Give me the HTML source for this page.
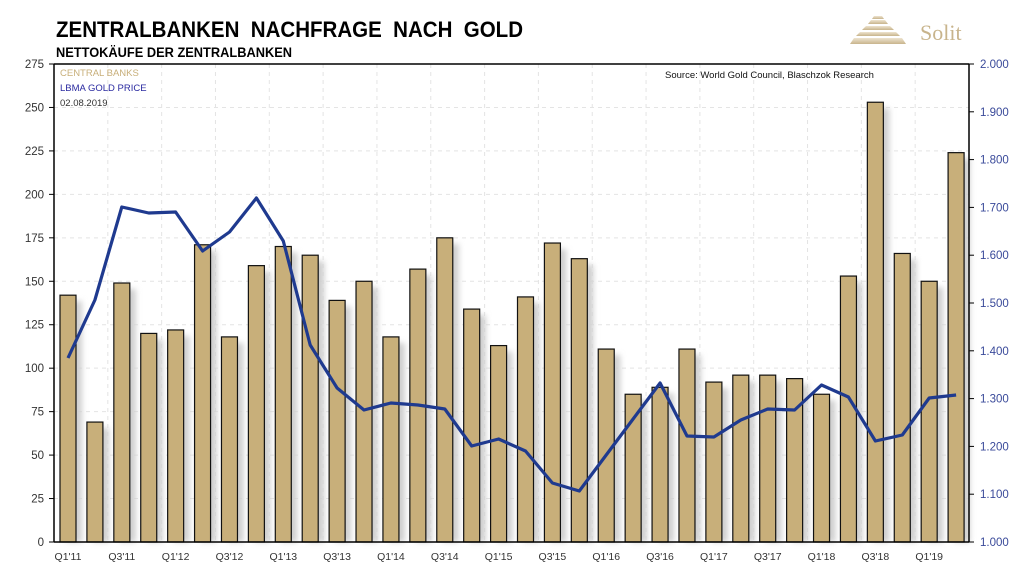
<!DOCTYPE html>
<html><head><meta charset="utf-8"><style>
body{margin:0;background:#fff;}
svg{display:block;font-family:"Liberation Sans",sans-serif;}
</style></head><body>
<svg width="1024" height="575" xmlns="http://www.w3.org/2000/svg">
<defs><filter id="b" x="-50%" y="-10%" width="200%" height="120%"><feGaussianBlur stdDeviation="3"/></filter>
<linearGradient id="g" x1="0" x2="0" y1="0" y2="1"><stop offset="0" stop-color="#eee4d0"/><stop offset="1" stop-color="#c8b48c"/></linearGradient></defs>
<text x="56" y="37" font-size="22" font-weight="bold" textLength="467" lengthAdjust="spacingAndGlyphs" xml:space="preserve">ZENTRALBANKEN  NACHFRAGE  NACH  GOLD</text>
<text x="56" y="57" font-size="13.5" font-weight="bold" textLength="236" lengthAdjust="spacingAndGlyphs">NETTOKÄUFE DER ZENTRALBANKEN</text>
<g fill="url(#g)"><polygon points="871,20 885,20 888,24 868,24"/><polygon points="866,26 890,26 894,30 862,30"/><polygon points="860,32 896,32 900,36 856,36"/><polygon points="854,38 902,38 906,44 850,44"/><polygon points="874,16 882,16 884,19 872,19"/></g>
<text x="920" y="40" font-family="Liberation Serif,serif" font-size="22" fill="#c8b48c">Solit</text>
<g id="grid" stroke="#e4e4e4" stroke-dasharray="4,4"></g>
<g id="shadow" fill="#cfcfcf" filter="url(#b)"></g>
<g id="bars" fill="#c8af7a" stroke="#111" stroke-width="1.2"></g>
<polyline id="line" fill="none" stroke="#1f3a8f" stroke-width="3.2" stroke-linejoin="round"/>
<g stroke="#000" stroke-width="1.5"><line x1="54" y1="64" x2="969" y2="64"/><line x1="54" y1="64" x2="54" y2="542"/><line x1="969" y1="64" x2="969" y2="542"/><line x1="54" y1="542" x2="969" y2="542"/></g>
<g id="ticks" stroke="#000" stroke-width="1"></g>
<g id="ly" font-size="11.5" fill="#333" text-anchor="end"></g>
<g id="ry" font-size="11.5" fill="#3a4a9a"></g>
<g id="xl" font-size="10.5" fill="#333" text-anchor="middle"></g>
<text x="60" y="76" font-size="9.5" fill="#c8af7a">CENTRAL BANKS</text>
<text x="60" y="91" font-size="9.5" fill="#2a2aa0">LBMA GOLD PRICE</text>
<text x="60" y="106" font-size="9.5" fill="#333">02.08.2019</text>
<text x="665" y="78" font-size="9.5" fill="#111">Source: World Gold Council, Blaschzok Research</text>
</svg>
<script>
const NS="http://www.w3.org/2000/svg";
function el(p,t,a,tx){const e=document.createElementNS(NS,t);for(const k in a)e.setAttribute(k,a[k]);if(tx)e.textContent=tx;document.getElementById(p).appendChild(e);}
const v=[142,69,149,120,122,171,118,159,170,165,139,150,118,157,175,134,113,141,172,163,111,85,89,111,92,96,96,94,85,153,253,166,150,224];
const ly=[358,300,207,213,212,251,232,198,241,345,388,410,403,405,409,446,439,451,483,491,455,419,383,436,437,420,409,410,385,397,441,435,398,395];
const p=915/34;const yb=u=>542-u*478/275;
let pts=[];
for(let i=0;i<34;i++){const x=54+p*i+6;const y=yb(v[i]);
el("shadow","rect",{x:x+6,y:y+6,width:16,height:536-y});
el("bars","rect",{x:x,y:y,width:16,height:542-y});
pts.push((x+8).toFixed(1)+","+ly[i]);
if(i%2==0){const q=(i%4==0?"Q1":"Q3")+"'"+(11+Math.floor(i/4));el("xl","text",{x:x+8,y:560},q);}
}
for(let i=1;i<17;i++){el("grid","line",{x1:54+p*2*i,y1:64,x2:54+p*2*i,y2:542});}
document.getElementById("line").setAttribute("points",pts.join(" "));
for(let k=0;k<=11;k++){const y=yb(k*25);el("ly","text",{x:44,y:y+4},String(k*25));el("ticks","line",{x1:49,y1:y,x2:54,y2:y});if(k>0&&k<11)el("grid","line",{x1:54,y1:y,x2:969,y2:y});}
for(let k=0;k<=10;k++){const y=542-k*47.8;el("ry","text",{x:980,y:y+4},(1+k/10).toFixed(3));el("ticks","line",{x1:969,y1:y,x2:974,y2:y});}
</script>
</body></html>
